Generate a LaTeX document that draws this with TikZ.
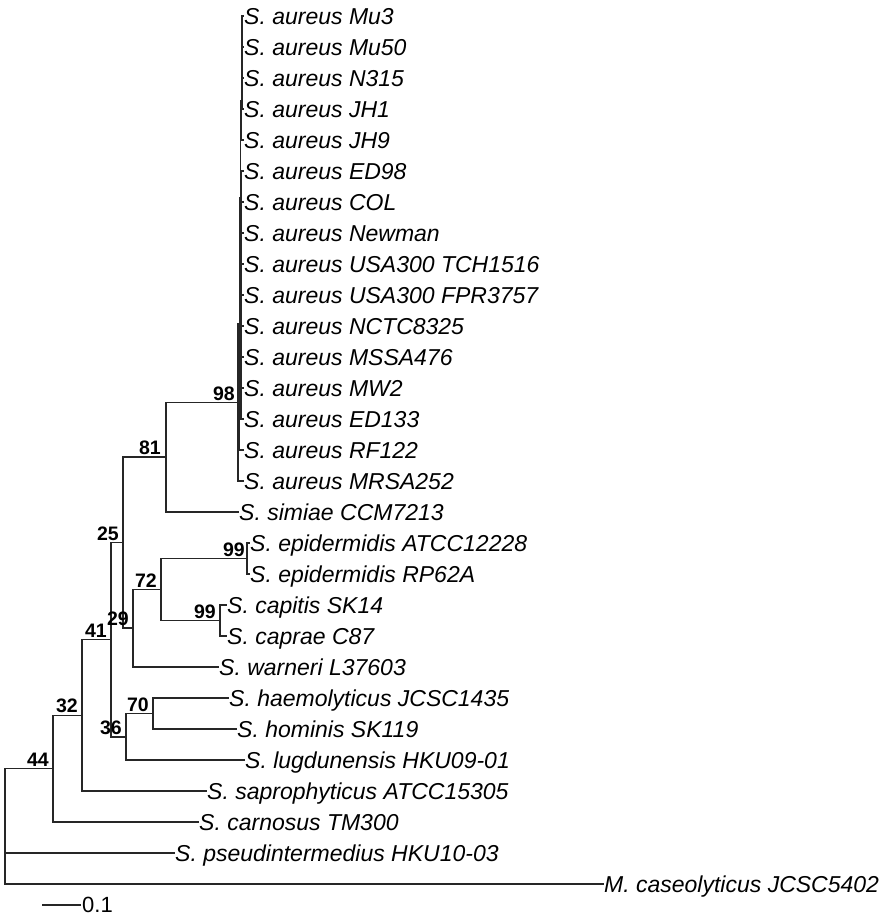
\documentclass[tikz,border=0pt]{standalone}
\usepackage{fontspec}
\setmainfont{Liberation Sans}
\tikzset{
  br/.style={line width=1.6pt, draw=black!85, line cap=rect},
  leaf/.style={anchor=base west, inner sep=0pt, xshift=1pt, yshift=-8.2pt, font=\fontsize{23}{23}\selectfont\itshape},
  bs/.style={anchor=south east, inner sep=0pt, font=\fontsize{19.5}{19.5}\selectfont\bfseries},
}
\newcommand\mkleaf[4]{\coordinate (#1) at (#2,#3); \node[leaf] (L#1) at (#1) {#4};}
\begin{document}
\begin{tikzpicture}[x=1pt,y=-1pt]
\useasboundingbox (0,0) rectangle (889,921);
% internal nodes
\coordinate (root) at (5,826);
\coordinate (n44) at (53,768.6);
\coordinate (n32) at (82,715.3);
\coordinate (n41) at (111,639.6);
\coordinate (n25) at (123,542.5);
\coordinate (n81) at (166,457);
\coordinate (n98) at (238,402.5);
\coordinate (a1) at (239.5,324);
\coordinate (a2) at (240.5,198);
\coordinate (a3) at (241.5,101.25);
\coordinate (g1) at (242.2,62.5);
\coordinate (a4) at (241.2,295);
\coordinate (n29) at (133,628);
\coordinate (n72) at (161,589.5);
\coordinate (nEpi) at (247,558.5);
\coordinate (nCap) at (220,620.5);
\coordinate (n36) at (126,736.75);
\coordinate (n70) at (153,713.5);
% leaves
\mkleaf{Mu3}{243}{16}{S. aureus Mu3}
\mkleaf{Mu50}{243}{47}{S. aureus Mu50}
\mkleaf{N315}{243}{78}{S. aureus N315}
\mkleaf{JH1}{243}{109}{S. aureus JH1}
\mkleaf{JH9}{243}{140}{S. aureus JH9}
\mkleaf{ED98}{243}{171}{S. aureus ED98}
\mkleaf{COL}{243}{202}{S. aureus COL}
\mkleaf{Newman}{243}{233}{S. aureus Newman}
\mkleaf{TCH}{243}{264}{S. aureus USA300 TCH1516}
\mkleaf{FPR}{243}{295}{S. aureus USA300 FPR3757}
\mkleaf{NCTC}{243}{326}{S. aureus NCTC8325}
\mkleaf{MSSA}{243}{357}{S. aureus MSSA476}
\mkleaf{MW2}{243}{388}{S. aureus MW2}
\mkleaf{ED133}{243}{419}{S. aureus ED133}
\mkleaf{RF122}{243}{450}{S. aureus RF122}
\mkleaf{MRSA}{243}{481}{S. aureus MRSA252}
\mkleaf{Sim}{238}{512}{S. simiae CCM7213}
\mkleaf{EpA}{249}{543}{S. epidermidis ATCC12228}
\mkleaf{EpR}{249}{574}{S. epidermidis RP62A}
\mkleaf{Cap}{226}{605}{S. capitis SK14}
\mkleaf{Cpr}{226}{636}{S. caprae C87}
\mkleaf{War}{218}{667}{S. warneri L37603}
\mkleaf{Hae}{228}{698}{S. haemolyticus JCSC1435}
\mkleaf{Hom}{236}{729}{S. hominis SK119}
\mkleaf{Lug}{244}{760}{S. lugdunensis HKU09-01}
\mkleaf{Sap}{206}{791}{S. saprophyticus ATCC15305}
\mkleaf{Car}{198}{822}{S. carnosus TM300}
\mkleaf{Pse}{174}{853}{S. pseudintermedius HKU10-03}
\mkleaf{Mca}{603}{884}{M. caseolyticus JCSC5402}
% branches
\draw[br] (root) |- (n44);
\draw[br] (root) |- (Pse);
\draw[br] (root) |- (Mca);
\draw[br] (n44) |- (n32);
\draw[br] (n44) |- (Car);
\draw[br] (n32) |- (n41);
\draw[br] (n32) |- (Sap);
\draw[br] (n41) |- (n25);
\draw[br] (n41) |- (n36);
\draw[br] (n25) |- (n81);
\draw[br] (n25) |- (n29);
\draw[br] (n81) |- (n98);
\draw[br] (n81) |- (Sim);
\draw[br] (n98) |- (a1);
\draw[br] (n98) |- (MRSA);
\draw[br] (a1) |- (a2);
\draw[br] (a1) |- (RF122);
\draw[br] (a2) |- (a3);
\draw[br] (a2) |- (a4);
\draw[br] (a3) |- (g1);
\draw[br] (a3) |- (JH9);
\foreach \c in {Mu3,Mu50,N315,JH1} \draw[br] (g1) |- (\c);
\foreach \c in {ED98,COL,Newman,TCH,FPR,NCTC,MSSA,MW2,ED133} \draw[br] (a4) |- (\c);
\draw[br] (n29) |- (n72);
\draw[br] (n29) |- (War);
\draw[br] (n72) |- (nEpi);
\draw[br] (n72) |- (nCap);
\draw[br] (nEpi) |- (EpA);
\draw[br] (nEpi) |- (EpR);
\draw[br] (nCap) |- (Cap);
\draw[br] (nCap) |- (Cpr);
\draw[br] (n36) |- (n70);
\draw[br] (n36) |- (Lug);
\draw[br] (n70) |- (Hae);
\draw[br] (n70) |- (Hom);
% bootstrap values
\node[bs] (b44) at ([xshift=-4pt,yshift=2pt]n44) {44};
\node[bs] (b32) at ([xshift=-4pt,yshift=2pt]n32) {32};
\node[bs] (b41) at ([xshift=-4pt,yshift=2pt]n41) {41};
\node[bs] (b25) at ([xshift=-4pt,yshift=2pt]n25) {25};
\node[bs] (b81) at ([xshift=-5pt,yshift=2pt]n81) {81};
\node[bs] (b98) at ([xshift=-3pt,yshift=2pt]n98) {98};
\node[bs] (b29) at ([xshift=-4pt,yshift=2pt]n29) {29};
\node[bs] (b72) at ([xshift=-4pt,yshift=2pt]n72) {72};
\node[bs] (b99a) at ([xshift=-2pt,yshift=2pt]nEpi) {99};
\node[bs] (b99b) at ([xshift=-4pt,yshift=2pt]nCap) {99};
\node[bs] (b36) at ([xshift=-4pt,yshift=2pt]n36) {36};
\node[bs] (b70) at ([xshift=-4pt,yshift=2pt]n70) {70};
% scale bar
\coordinate (s0) at (43,905);
\coordinate (s1) at (80,905);
\draw[br] (s0) -- (s1);
\node[anchor=west, inner sep=0pt, xshift=2pt, font=\fontsize{22}{22}\selectfont] (sl) at (s1) {0.1};
\end{tikzpicture}
\end{document}
